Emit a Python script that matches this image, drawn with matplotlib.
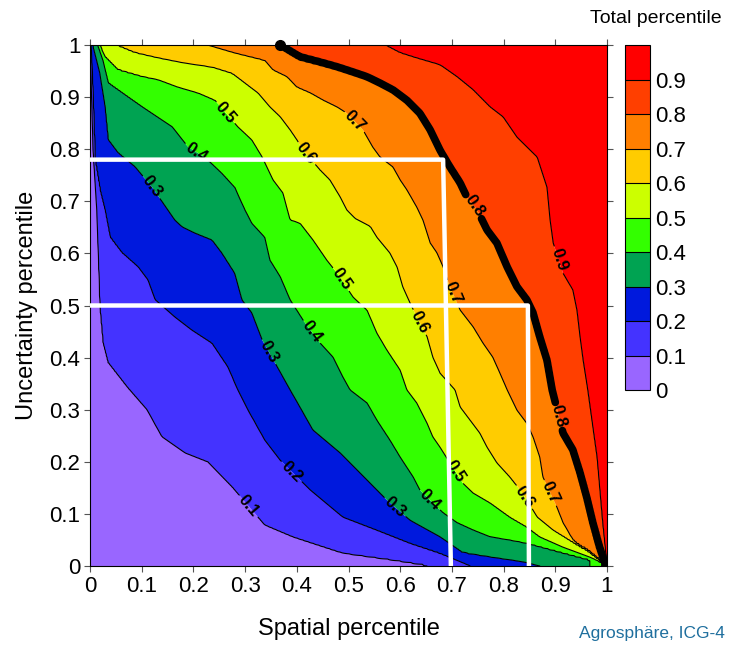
import numpy as np
import matplotlib
matplotlib.use("Agg")
import matplotlib.pyplot as plt

plt.rcParams['font.family'] = ['Liberation Sans', 'DejaVu Sans']

# ---- Data: contour traces (spatial x, uncertainty y) ----
levels = [0.0, 0.1, 0.2, 0.3, 0.4, 0.5, 0.6, 0.7, 0.8, 0.9, 1.0]
colors = ['#9966ff', '#4433ff', '#0019dd', '#00a352', '#33ff00',
          '#ccff00', '#ffcc00', '#ff7f00', '#ff3f00', '#ff0000']
tick_labels = ['0', '0.1', '0.2', '0.3', '0.4', '0.5', '0.6', '0.7', '0.8', '0.9']

c01 = [(0.0, 1.0), (0.003, 0.9), (0.006, 0.8), (0.013, 0.683), (0.019, 0.497),
       (0.025, 0.428), (0.035, 0.39), (0.073, 0.342), (0.11, 0.30), (0.139, 0.248),
       (0.184, 0.217), (0.228, 0.2), (0.275, 0.152), (0.338, 0.079), (0.393, 0.056),
       (0.489, 0.025), (0.586, 0.012), (0.652, 0.002)]
c02 = [(0.002, 1.0), (0.006, 0.9), (0.01, 0.78), (0.02, 0.72), (0.029, 0.683),
       (0.039, 0.631), (0.062, 0.601), (0.093, 0.574), (0.112, 0.549), (0.126, 0.511),
       (0.164, 0.478), (0.197, 0.453), (0.236, 0.428), (0.267, 0.382), (0.286, 0.338),
       (0.306, 0.299), (0.338, 0.242), (0.368, 0.203), (0.426, 0.146), (0.489, 0.094),
       (0.555, 0.069), (0.619, 0.044), (0.677, 0.025), (0.735, 0.0)]
c03 = [(0.006, 0.996), (0.019, 0.946), (0.029, 0.881), (0.035, 0.818), (0.054, 0.793),
       (0.087, 0.766), (0.12, 0.727), (0.164, 0.664), (0.178, 0.651), (0.203, 0.639),
       (0.236, 0.626), (0.255, 0.601), (0.28, 0.562), (0.294, 0.511), (0.313, 0.486),
       (0.333, 0.434), (0.387, 0.338), (0.406, 0.305), (0.431, 0.261), (0.484, 0.217),
       (0.522, 0.179), (0.574, 0.127), (0.619, 0.088), (0.677, 0.056), (0.721, 0.025),
       (0.787, 0.015), (0.838, 0.008), (0.87, 0.0)]
c04 = [(0.015, 1.0), (0.025, 0.971), (0.035, 0.927), (0.062, 0.908), (0.101, 0.881),
       (0.13, 0.862), (0.159, 0.843), (0.19, 0.804), (0.222, 0.785), (0.255, 0.754),
       (0.28, 0.727), (0.3, 0.683), (0.313, 0.658), (0.338, 0.631), (0.348, 0.587),
       (0.368, 0.555), (0.387, 0.511), (0.412, 0.472), (0.445, 0.428), (0.47, 0.401),
       (0.489, 0.363), (0.503, 0.338), (0.536, 0.313), (0.555, 0.28), (0.58, 0.242),
       (0.6, 0.209), (0.625, 0.171), (0.638, 0.146), (0.663, 0.121), (0.683, 0.102),
       (0.71, 0.083), (0.741, 0.069), (0.774, 0.056), (0.812, 0.05), (0.845, 0.044),
       (0.967, 0.012)]
c05 = [(0.019, 1.0), (0.029, 0.977), (0.054, 0.952), (0.101, 0.939), (0.132, 0.933),
       (0.17, 0.919), (0.209, 0.908), (0.242, 0.894), (0.286, 0.843), (0.313, 0.818),
       (0.333, 0.785), (0.354, 0.741), (0.373, 0.716), (0.387, 0.664), (0.406, 0.658),
       (0.431, 0.626), (0.458, 0.587), (0.478, 0.562), (0.509, 0.516), (0.536, 0.491),
       (0.555, 0.447), (0.574, 0.415), (0.6, 0.376), (0.613, 0.338), (0.632, 0.313),
       (0.652, 0.274), (0.663, 0.248), (0.677, 0.228), (0.696, 0.198), (0.721, 0.159),
       (0.741, 0.14), (0.774, 0.121), (0.812, 0.094), (0.845, 0.075), (0.87, 0.056),
       (0.915, 0.036), (0.967, 0.017), (0.992, 0.006)]
c06 = [(0.05, 1.0), (0.087, 0.985), (0.132, 0.975), (0.184, 0.965), (0.236, 0.958),
       (0.275, 0.946), (0.3, 0.927), (0.325, 0.908), (0.348, 0.881), (0.368, 0.862),
       (0.387, 0.837), (0.4, 0.818), (0.412, 0.798), (0.445, 0.76), (0.464, 0.741),
       (0.484, 0.708), (0.497, 0.683), (0.513, 0.667), (0.542, 0.652), (0.555, 0.631),
       (0.58, 0.601), (0.594, 0.574), (0.605, 0.536), (0.619, 0.505), (0.632, 0.478),
       (0.652, 0.44), (0.663, 0.401), (0.677, 0.37), (0.706, 0.338), (0.716, 0.305),
       (0.735, 0.28), (0.754, 0.255), (0.768, 0.228), (0.787, 0.198), (0.812, 0.171),
       (0.832, 0.146), (0.845, 0.127), (0.865, 0.094), (0.896, 0.069), (0.928, 0.05),
       (0.961, 0.031), (0.986, 0.012)]
c07 = [(0.228, 1.0), (0.28, 0.985), (0.313, 0.977), (0.338, 0.971), (0.354, 0.952),
       (0.381, 0.939), (0.4, 0.919), (0.426, 0.908), (0.451, 0.894), (0.478, 0.881),
       (0.497, 0.869), (0.528, 0.837), (0.547, 0.804), (0.561, 0.785), (0.586, 0.766),
       (0.6, 0.741), (0.613, 0.722), (0.632, 0.689), (0.644, 0.664), (0.658, 0.62),
       (0.671, 0.601), (0.683, 0.574), (0.696, 0.536), (0.716, 0.491), (0.741, 0.459),
       (0.76, 0.428), (0.779, 0.401), (0.793, 0.37), (0.807, 0.338), (0.826, 0.299),
       (0.845, 0.274), (0.857, 0.248), (0.87, 0.209), (0.876, 0.171), (0.903, 0.113),
       (0.915, 0.083), (0.934, 0.05), (0.961, 0.025), (0.986, 0.006)]
c08 = [(0.368, 1.0), (0.406, 0.977), (0.445, 0.967), (0.478, 0.958), (0.509, 0.948),
       (0.536, 0.939), (0.561, 0.927), (0.586, 0.914), (0.613, 0.894), (0.638, 0.869),
       (0.658, 0.837), (0.677, 0.798), (0.696, 0.766), (0.716, 0.735), (0.729, 0.708),
       (0.749, 0.683), (0.768, 0.645), (0.787, 0.62), (0.807, 0.574), (0.826, 0.536),
       (0.845, 0.511), (0.857, 0.486), (0.87, 0.44), (0.884, 0.395), (0.894, 0.338),
       (0.915, 0.255), (0.934, 0.223), (0.948, 0.179), (0.961, 0.132), (0.973, 0.083),
       (0.986, 0.036), (0.996, 0.006)]
c09 = [(0.571, 1.0), (0.6, 0.985), (0.632, 0.975), (0.677, 0.962), (0.71, 0.939),
       (0.741, 0.914), (0.774, 0.881), (0.799, 0.862), (0.826, 0.823), (0.865, 0.785),
       (0.884, 0.727), (0.89, 0.664), (0.896, 0.62), (0.915, 0.562), (0.934, 0.53),
       (0.942, 0.491), (0.948, 0.44), (0.954, 0.395), (0.963, 0.338), (0.981, 0.209),
       (0.992, 0.083), (1.0, 0.006)]
contour_traces = [c01, c02, c03, c04, c05, c06, c07, c08, c09]

# label positions (x, y) for contour labels
label_pos = [(0.30, 0.107), (0.387, 0.178),
             (0.112, 0.722), (0.344, 0.41), (0.594, 0.117),
             (0.203, 0.789), (0.426, 0.447), (0.658, 0.127),
             (0.261, 0.869), (0.484, 0.549), (0.702, 0.178),
             (0.42, 0.793), (0.634, 0.466), (0.832, 0.127),
             (0.509, 0.85), (0.702, 0.524), (0.89, 0.14),
             (0.741, 0.689), (0.903, 0.286),
             (0.905, 0.587)]

# white selection lines
sel1_x = [0.0, 0.683, 0.698]
sel1_y = [0.78, 0.78, 0.0]
sel2_x = [0.0, 0.847, 0.849]
sel2_y = [0.50, 0.50, 0.0]

# ---- Build field from traces ----
ny, nx = 301, 601
yr = np.linspace(0, 1, ny)
xr = np.linspace(0, 1, nx)
cross = []
for tr in contour_traces:
    a = np.array(tr)
    o = np.argsort(a[:, 1])
    cross.append(np.interp(yr, a[o, 1], a[o, 0]))
cross = np.array(cross)  # (9, ny)
cross = np.maximum.accumulate(cross, axis=0)
Z = np.zeros((ny, nx))
lv = np.array(levels)
for i in range(ny):
    xp = np.concatenate([[0.0], cross[:, i], [1.0]])
    xp = np.maximum.accumulate(xp)
    Z[i] = np.interp(xr, xp, lv)
X, Y = np.meshgrid(xr, yr)

# ---- Plot ----
fig = plt.figure(figsize=(7.3, 6.45), dpi=100)
ax = fig.add_axes([0.1233, 0.1225, 0.7082, 0.8077])
cf = ax.contourf(X, Y, Z, levels=levels, colors=colors, antialiased=True)
lws = [0.8] * 9
lws[7] = 5.5
cs = ax.contour(X, Y, Z, levels=levels[1:-1], colors='k', linewidths=lws)
cs.set_capstyle('round')
ax.clabel(cs, manual=label_pos, inline=True, inline_spacing=3, fontsize=12,
          fmt=lambda v: f'{v:.1f}')
for t in cs.labelTexts:
    t.set_fontweight('bold')

# round end dot of the thick line at the top edge
ax.plot([c08[0][0]], [c08[0][1]], 'o', color='k', ms=7, clip_on=False, zorder=6)

ax.plot(sel1_x, sel1_y, color='white', lw=3.2, zorder=10, solid_capstyle='butt')
ax.plot(sel2_x, sel2_y, color='white', lw=3.2, zorder=10, solid_capstyle='butt')

ax.set_xlim(0, 1)
ax.set_ylim(0, 1)
ticks = np.round(np.arange(0, 1.01, 0.1), 1)
tl = ['0'] + [f'{t:.1f}' for t in ticks[1:-1]] + ['1']
ax.set_xticks(ticks)
ax.set_xticklabels(tl)
ax.set_yticks(ticks)
ax.set_yticklabels(tl)
ax.tick_params(direction='out', length=4, width=0.8, labelsize=16, pad=3,
               top=True, right=True, color='#555555')
ax.set_xlabel('Spatial percentile', fontsize=17, labelpad=15)
ax.set_ylabel('Uncertainty percentile', fontsize=17, labelpad=8)

cax = fig.add_axes([0.856, 0.395, 0.034, 0.535])
cb = fig.colorbar(cf, cax=cax, drawedges=True)
cb.set_ticks(levels[:-1])
cb.set_ticklabels(tick_labels)
cb.ax.tick_params(length=0, labelsize=16, pad=4)
cb.outline.set_linewidth(0.8)
cb.dividers.set_linewidth(0.8)

fig.text(0.989, 0.972, 'Total percentile', ha='right', va='center', fontsize=14)
fig.text(0.993, 0.018, 'Agrosphäre, ICG-4', ha='right', va='center',
         fontsize=12.5, color='#1f6f9e')

fig.savefig('out.png', dpi=100)
